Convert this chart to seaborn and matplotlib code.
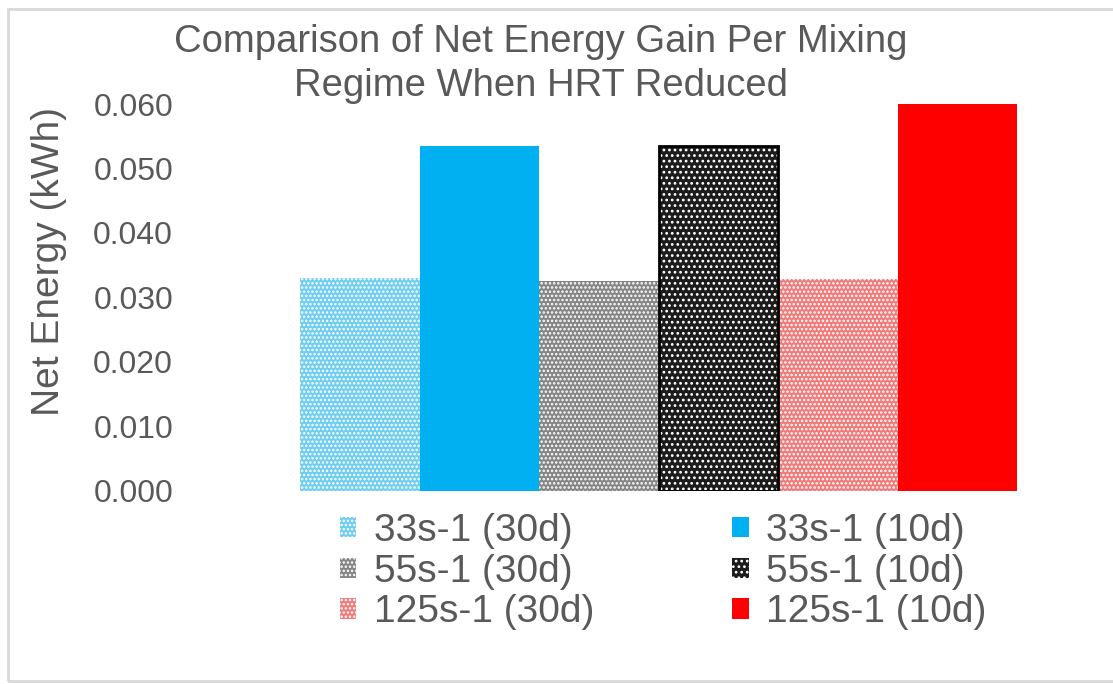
import matplotlib
matplotlib.use("Agg")
import matplotlib.pyplot as plt
from matplotlib.patches import Rectangle
import seaborn as sns
import pandas as pd

# Net energy per mixing regime and hydraulic retention time
series = ["33s-1 (30d)", "33s-1 (10d)", "55s-1 (30d)", "55s-1 (10d)",
          "125s-1 (30d)", "125s-1 (10d)"]
net_energy = [0.033, 0.0535, 0.0325, 0.0535, 0.0328, 0.060]
yticks = [0.000, 0.010, 0.020, 0.030, 0.040, 0.050, 0.060]

face_colors = ["#6fcdf0", "#00b0f0", "#858585", "#1c1c1c", "#f07a7a", "#ff0000"]
hatches = ["....", "", "....", "...", "....", ""]

sns.set_theme(style="white")
plt.rcParams["font.family"] = ["Liberation Sans", "DejaVu Sans"]
plt.rcParams["hatch.linewidth"] = 1.2
text_color = "#595959"

W, H = 1113, 684
fig = plt.figure(figsize=(W / 100, H / 100), dpi=100)
fig.patch.set_facecolor("white")

# axes placement in pixels
ax_left, ax_right, ax_bottom, ax_top = 180, 1100, 490.5, 104
ax = fig.add_axes([ax_left / W, 1 - ax_bottom / H,
                   (ax_right - ax_left) / W, (ax_bottom - ax_top) / H])

df = pd.DataFrame({"series": series, "value": net_energy})
sns.barplot(data=df, x="series", y="value", hue="series", order=series,
            hue_order=series, palette=face_colors, width=1.0, dodge=False,
            legend=False, ax=ax)

bar_patches = [p for p in ax.patches]
for patch, fc, hatch in zip(bar_patches, face_colors, hatches):
    patch.set_facecolor(fc)
    patch.set_alpha(1)
    if hatch:
        patch.set_hatch(hatch)
        patch.set_edgecolor("white")
    else:
        patch.set_edgecolor(fc)
    patch.set_linewidth(0)

# black frame around the dark 10d bar of the 55s-1 regime
dark = bar_patches[3]
ax.add_patch(Rectangle((dark.get_x(), dark.get_y()), dark.get_width(),
                       dark.get_height(), fill=False, edgecolor="black",
                       linewidth=2.0, zorder=dark.get_zorder() + 0.1))

# bar 0 begins at pixel 300, bar width ~119.7 px
bw = (1017 - 300) / 6
x0 = -0.5 - (300 - ax_left) / bw
x1 = 5.5 + (ax_right - 1017) / bw
ax.set_xlim(x0, x1)
ax.set_ylim(0, 0.060)
ax.set_yticks(yticks)
ax.set_yticklabels([f"{v:.3f}" for v in yticks])
ax.tick_params(axis="y", length=0, pad=5, labelsize=23, labelcolor=text_color)
ax.set_xticks([])
ax.set_xlabel("")
for s in ax.spines.values():
    s.set_visible(False)
ax.set_facecolor("none")

ax.set_ylabel("Net Energy (kWh)", fontsize=28, color=text_color)
ax.yaxis.set_label_coords((67 - ax_left) / (ax_right - ax_left),
                          (ax_bottom - 262) / (ax_bottom - ax_top))

fig.text(541 / W, 1 - 24 / H,
         "Comparison of Net Energy Gain Per Mixing\nRegime When HRT Reduced",
         ha="center", va="top", fontsize=27.5, color=text_color,
         linespacing=1.3)

# legend: 30d runs in the left column, 10d runs in the right column
order = [0, 2, 4, 1, 3, 5]
handles = [bar_patches[i] for i in order]
labels = [series[i] for i in order]
leg = fig.legend(handles, labels, ncol=2, loc="upper left",
                 bbox_to_anchor=(340 / W, 1 - 513 / H),
                 fontsize=28, frameon=False, handlelength=0.42,
                 handleheight=0.42, handletextpad=0.45, labelspacing=0.12,
                 columnspacing=3.55, borderpad=0, borderaxespad=0)
for t in leg.get_texts():
    t.set_color(text_color)

# light chart-area border
fig.add_artist(Rectangle((8 / W, 1 - 681 / H), (W + 20 - 8) / W, (681 - 9) / H,
                         transform=fig.transFigure, fill=False,
                         edgecolor="#d9d9d9", linewidth=2.0))

fig.savefig("out.png", dpi=100)
